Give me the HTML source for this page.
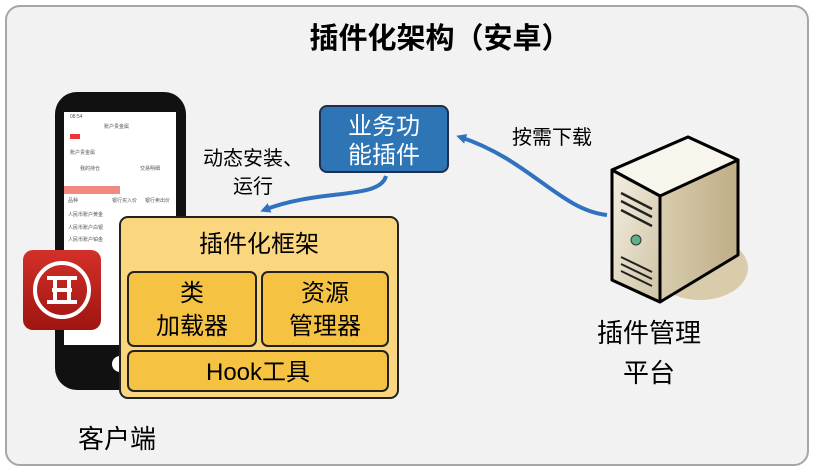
<!DOCTYPE html>
<html><head><meta charset="utf-8"><style>
body{margin:0;background:#fff;}
svg{display:block;font-family:"Liberation Sans","Noto Sans CJK SC",sans-serif;}
</style></head><body>
<svg width="815" height="474" viewBox="0 0 815 474" xmlns="http://www.w3.org/2000/svg">
<defs>
<linearGradient id="sf" x1="0" y1="0" x2="1" y2="1"><stop offset="0" stop-color="#f4efe2"/><stop offset="1" stop-color="#cfc3a4"/></linearGradient>
<linearGradient id="ss" x1="0" y1="0" x2="1" y2="0"><stop offset="0" stop-color="#e8dfc6"/><stop offset="1" stop-color="#bfae86"/></linearGradient>
<linearGradient id="ic" x1="0" y1="0" x2="0" y2="1"><stop offset="0" stop-color="#d4302a"/><stop offset="1" stop-color="#9e1510"/></linearGradient>
<marker id="ah" markerWidth="10" markerHeight="10" refX="6" refY="5" orient="auto" markerUnits="userSpaceOnUse"><path d="M0,0 L10,5 L0,10 z" fill="#2f72c0"/></marker>
</defs>
<rect x="6" y="6" width="802" height="459" rx="14" fill="#f2f2f2" stroke="#a6a6a6" stroke-width="2"/>
<text x="440" y="48" font-size="29" font-weight="bold" text-anchor="middle" fill="#000">插件化架构（安卓）</text>
<rect x="55" y="92" width="131" height="298" rx="22" fill="#111"/>
<rect x="64" y="112" width="112" height="233" fill="#fff"/>
<circle cx="120" cy="364" r="8" fill="#fff"/>
<g font-size="5" fill="#555">
<text x="70" y="118">08:54</text><text x="104" y="128">账户贵金属</text>
<rect x="70" y="134" width="10" height="5" fill="#e33"/>
<text x="70" y="154">账户贵金属</text><text x="80" y="170">我的持仓</text><text x="140" y="170">交易明细</text>
<rect x="64" y="186" width="56" height="8" fill="#f08a80"/>
<text x="68" y="202">品种</text><text x="112" y="202">银行买入价</text><text x="145" y="202">银行卖出价</text>
<text x="68" y="216">人民币账户黄金</text><text x="68" y="229">人民币账户白银</text><text x="68" y="241">人民币账户铂金</text>
</g>
<rect x="23" y="250" width="78" height="80" rx="10" fill="url(#ic)"/>
<circle cx="62" cy="290" r="27" fill="none" stroke="#fff" stroke-width="4"/>
<g fill="none" stroke="#fff" stroke-width="4">
<path d="M47,278 H77 M47,302 H77 M52,290 H72 M55,278 V302 M69,278 V302"/>
</g>
<rect x="120" y="217" width="278" height="181" rx="8" fill="#fad67e" stroke="#222" stroke-width="2"/>
<text x="259" y="252" font-size="24" text-anchor="middle">插件化框架</text>
<rect x="128" y="272" width="128" height="74" rx="6" fill="#f5c242" stroke="#222" stroke-width="2"/>
<rect x="262" y="272" width="126" height="74" rx="6" fill="#f5c242" stroke="#222" stroke-width="2"/>
<rect x="128" y="351" width="260" height="40" rx="6" fill="#f5c242" stroke="#222" stroke-width="2"/>
<text x="192" y="301" font-size="24" text-anchor="middle">类</text>
<text x="192" y="334" font-size="24" text-anchor="middle">加载器</text>
<text x="325" y="301" font-size="24" text-anchor="middle">资源</text>
<text x="325" y="334" font-size="24" text-anchor="middle">管理器</text>
<text x="258" y="380" font-size="24" text-anchor="middle">Hook工具</text>
<rect x="320" y="106" width="128" height="66" rx="7" fill="#2e75b6" stroke="#1f2f4f" stroke-width="2"/>
<text x="384" y="134" font-size="24" text-anchor="middle" fill="#fff">业务功</text>
<text x="384" y="163" font-size="24" text-anchor="middle" fill="#fff">能插件</text>
<text x="203" y="165" font-size="20">动态安装、</text>
<text x="233" y="193" font-size="20">运行</text>
<path d="M386,176 C380,200 320,188 264,210" fill="none" stroke="#2f72c0" stroke-width="4" marker-end="url(#ah)"/>
<text x="512" y="144" font-size="20">按需下载</text>
<path d="M607,215 C560,210 530,160 460,137" fill="none" stroke="#2f72c0" stroke-width="4" marker-end="url(#ah)"/>
<ellipse cx="700" cy="268" rx="48" ry="32" fill="#d8ccaa"/>
<path d="M612,170 L688,137 L738,160 L738,255 L660,302 L612,280 Z" fill="url(#ss)" stroke="#000" stroke-width="3" stroke-linejoin="round"/>
<path d="M612,170 L688,137 L738,160 L660,196 Z" fill="#f8f5ec" stroke="#000" stroke-width="3" stroke-linejoin="round"/>
<path d="M612,170 L660,196 L660,302 L612,280 Z" fill="url(#sf)" stroke="#000" stroke-width="3" stroke-linejoin="round"/>
<path d="M621,193 L652,209 M621,201 L652,217 M621,210 L652,226" stroke="#222" stroke-width="2.5"/>
<circle cx="636" cy="240" r="5" fill="#5cb08a" stroke="#333"/>
<path d="M621,257 L652,272 M621,264 L652,279 M621,271 L652,286" stroke="#222" stroke-width="2"/>
<text x="649" y="342" font-size="26" text-anchor="middle">插件管理</text>
<text x="649" y="382" font-size="26" text-anchor="middle">平台</text>
<text x="117" y="448" font-size="26" text-anchor="middle">客户端</text>
</svg>
</body></html>
